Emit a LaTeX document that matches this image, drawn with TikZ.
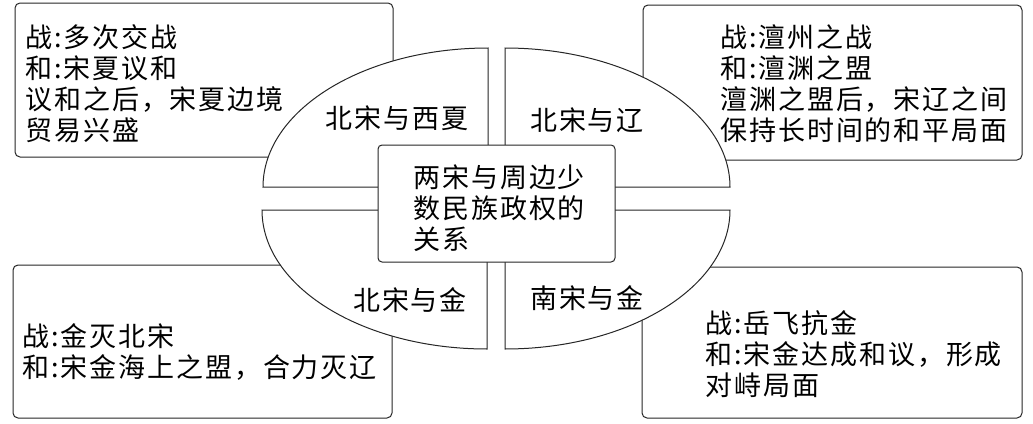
\documentclass[tikz,border=0pt]{standalone}
\usepackage{fontspec}
\newfontfamily\cjk[LetterSpace=7]{Noto Sans CJK SC}
\begin{document}
\begin{tikzpicture}[x=1pt,y=-1pt,
  line width=1pt,
  every node/.style={font=\cjk\fontsize{27}{31}\selectfont, inner sep=0pt, text=black},
  infobox/.style={draw=black!85, rounded corners=5pt, fill=white},
  quad/.style={draw=black!85, fill=white},
  info/.style={align=left, anchor=west},
  qlabel/.style={anchor=center}]
\useasboundingbox (0,0) rectangle (1033,423);
% corner boxes (behind the ellipse)
\draw[infobox] (15,3) rectangle (393,157);
\draw[infobox] (643,5) rectangle (1022,160);
\draw[infobox] (13,265) rectangle (392,418);
\draw[infobox] (642,267) rectangle (1022,418);
% four quarters of the ellipse
\draw[quad] (488,187) -- (263,187) arc[start angle=180, end angle=270, x radius=225, y radius=139] -- cycle;
\draw[quad] (505,187) -- (730,187) arc[start angle=0, end angle=-90, x radius=225, y radius=139] -- cycle;
\draw[quad] (487,210) -- (262,210) arc[start angle=180, end angle=90, x radius=225, y radius=139] -- cycle;
\draw[quad] (505,210) -- (730,210) arc[start angle=0, end angle=90, x radius=225, y radius=139] -- cycle;
% centre box
\draw[infobox, rounded corners=4pt] (378,145) rectangle (615,262);
\node[info] (center) at (413,208) {两宋与周边少\\数民族政权的\\关系};
% quadrant labels
\node[qlabel] (xixia) at (397,118) {北宋与西夏};
\node[qlabel] (liao) at (587,120) {北宋与辽};
\node[qlabel] (jinN) at (410,300) {北宋与金};
\node[qlabel] (jinS) at (587,298) {南宋与金};
% info texts
\node[info] (tUL) at (25,84) {战:多次交战\\和:宋夏议和\\议和之后，宋夏边境\\贸易兴盛};
\node[info] (tUR) at (720,84) {战:澶州之战\\和:澶渊之盟\\澶渊之盟后，宋辽之间\\保持长时间的和平局面};
\node[info] (tLL) at (22,352) {战:金灭北宋\\和:宋金海上之盟，合力灭辽};
\node[info] (tLR) at (705,354) {战:岳飞抗金\\和:宋金达成和议，形成\\对峙局面};
\end{tikzpicture}
\end{document}
